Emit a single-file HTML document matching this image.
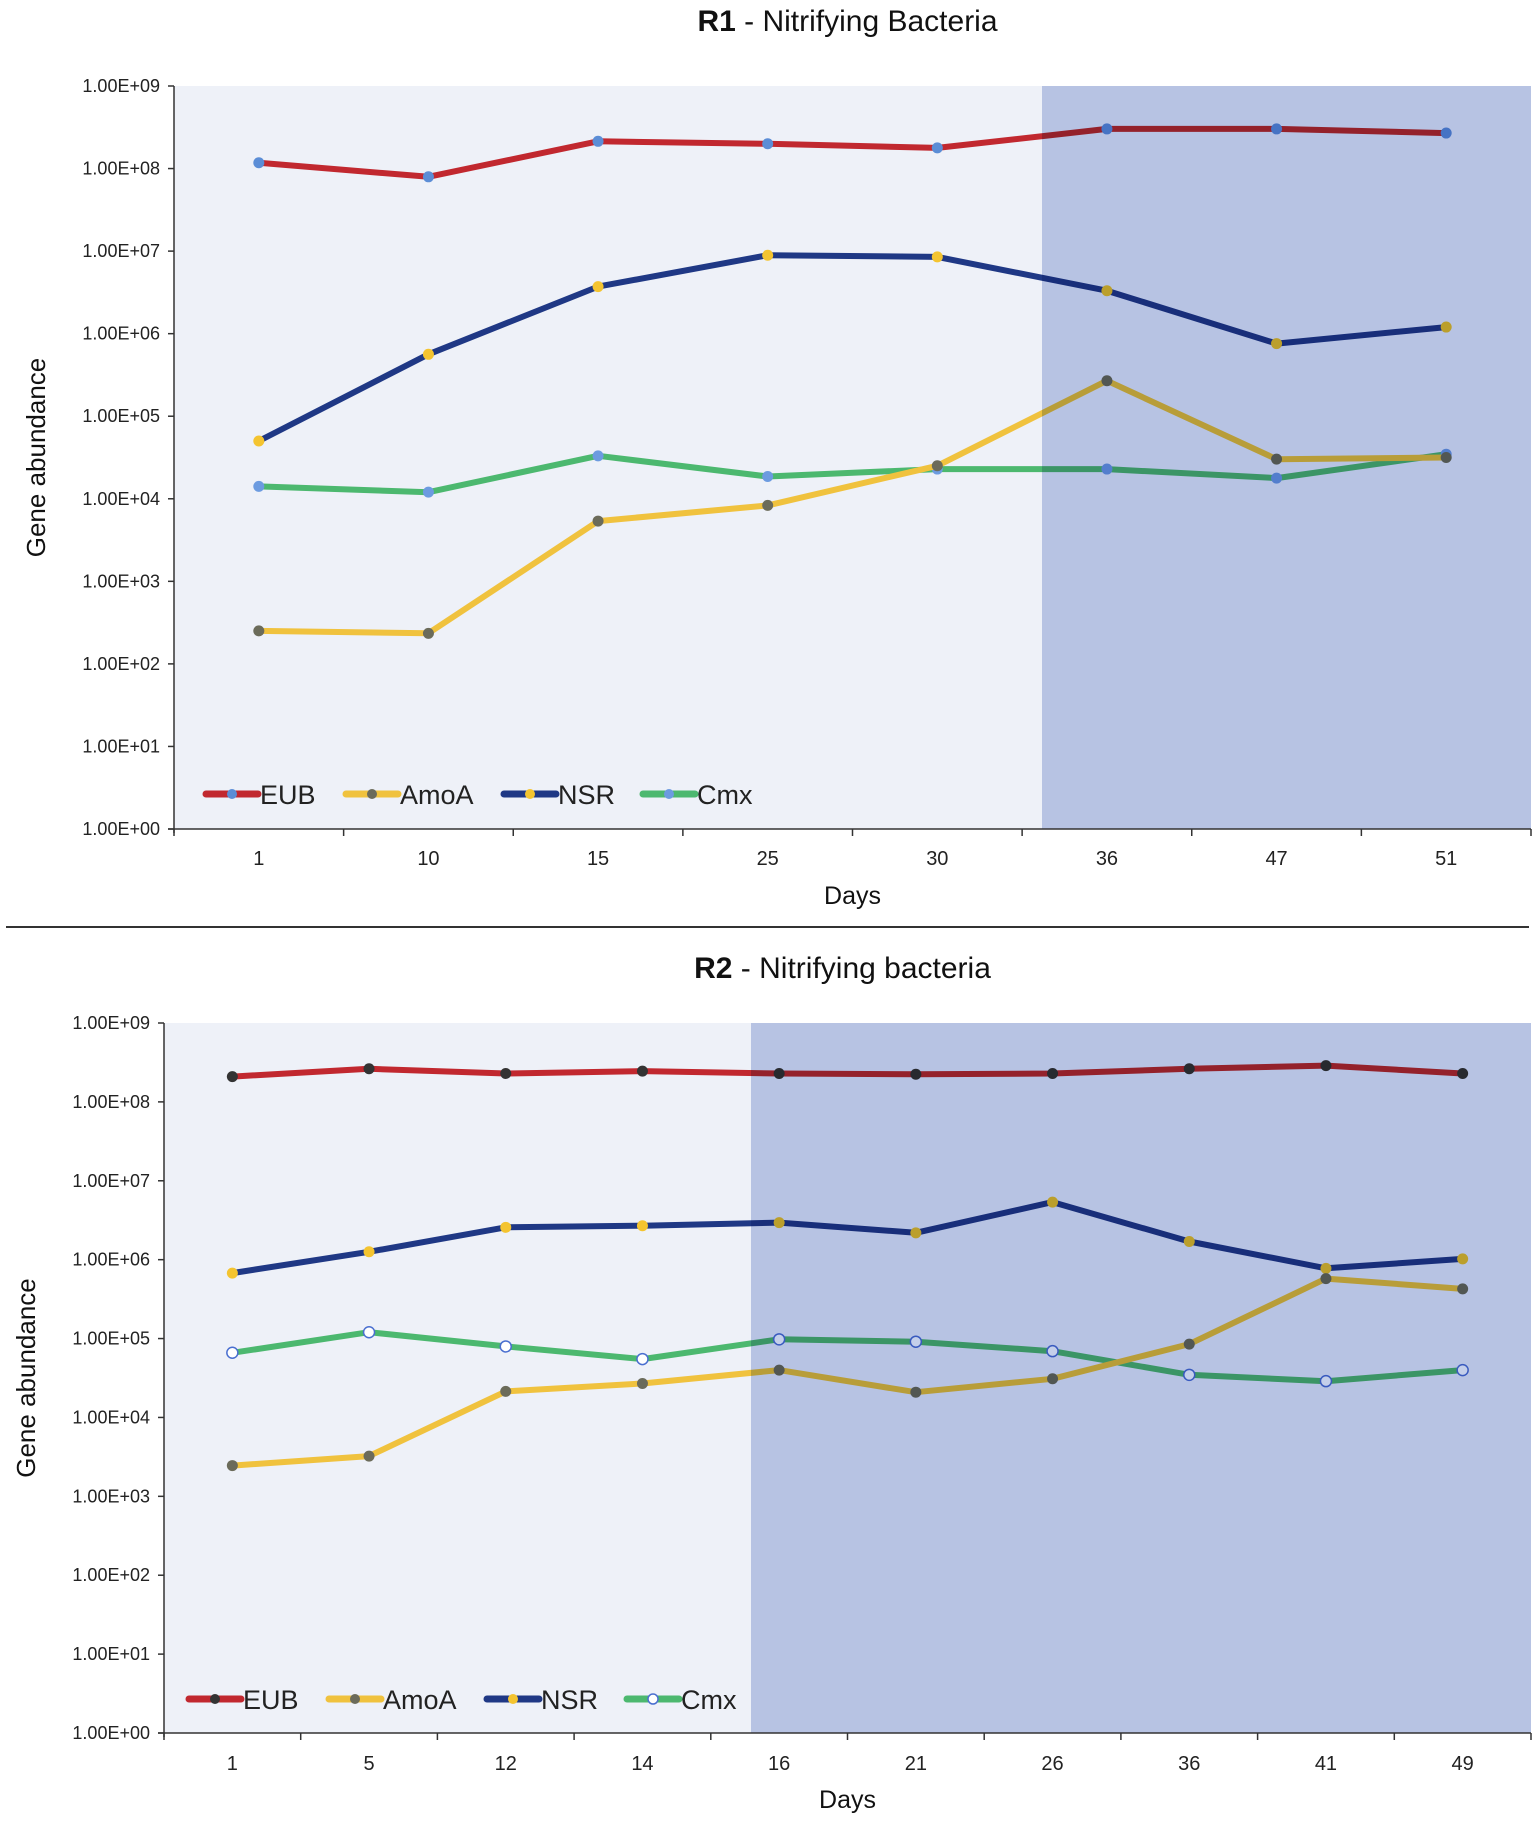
<!DOCTYPE html>
<html><head><meta charset="utf-8">
<style>
html,body{margin:0;padding:0;background:#fff;}
svg{display:block;font-family:"Liberation Sans",Arial,sans-serif;}
</style></head>
<body>
<svg id="chart" width="1535" height="1823" viewBox="0 0 1535 1823" xmlns="http://www.w3.org/2000/svg"></svg>
<script>
// ---- Chart R1 data (log10 gene abundance) ----
const r1Days = ["1","10","15","25","30","36","47","51"];
const r1EUB  = [8.07, 7.90, 8.33, 8.30, 8.25, 8.48, 8.48, 8.43];
const r1AmoA = [2.40, 2.37, 3.73, 3.92, 4.40, 5.43, 4.48, 4.50];
const r1NSR  = [4.70, 5.75, 6.57, 6.95, 6.93, 6.52, 5.88, 6.08];
const r1Cmx  = [4.15, 4.08, 4.52, 4.27, 4.36, 4.36, 4.25, 4.54];
// ---- Chart R2 data (log10 gene abundance) ----
const r2Days = ["1","5","12","14","16","21","26","36","41","49"];
const r2EUB  = [8.32, 8.42, 8.36, 8.39, 8.36, 8.35, 8.36, 8.42, 8.46, 8.36];
const r2AmoA = [3.39, 3.51, 4.33, 4.43, 4.60, 4.32, 4.49, 4.93, 5.76, 5.63];
const r2NSR  = [5.83, 6.10, 6.41, 6.43, 6.47, 6.34, 6.73, 6.23, 5.89, 6.01];
const r2Cmx  = [4.82, 5.08, 4.90, 4.74, 4.99, 4.96, 4.84, 4.54, 4.46, 4.60];
const yTickLabels = ["1.00E+00","1.00E+01","1.00E+02","1.00E+03","1.00E+04","1.00E+05","1.00E+06","1.00E+07","1.00E+08","1.00E+09"];

const NS = "http://www.w3.org/2000/svg";
const svg = document.getElementById("chart");
function mk(tag, attrs, parent, text){
  const e = document.createElementNS(NS, tag);
  for (const k in attrs) e.setAttribute(k, attrs[k]);
  if (text !== undefined) e.textContent = text;
  (parent || svg).appendChild(e);
  return e;
}

const colors = {EUB:"#c1282f", AmoA:"#f0c23e", NSR:"#1f3885", Cmx:"#4cb86f"};

function drawChart(cfg){
  const g = mk("g", {});
  
  
  const {L,R,T,B} = cfg;
  const n = cfg.days.length;
  const cw = (R - L) / n;
  const xPos = i => L + cw * (i + 0.5);
  const yPos = v => B - (B - T) * v / 9;

  const t = mk("text", {x:(L+R)/2 - 5, y:cfg.titleY, "text-anchor":"middle", "font-size":30, fill:"#111"}, g);
  
  
  mk("tspan", {"font-weight":"bold"}, t, cfg.titleBold);
  mk("tspan", {}, t, cfg.titleRest);

  const bg = mk("rect", {x:L, y:T, width:R-L, height:B-T, fill:"#eef1f8"}, g);
  
  

  const series = [
    {name:"EUB", vals:cfg.eub, mfill:cfg.mk.EUB, mstroke:"none"},
    {name:"AmoA", vals:cfg.amoa, mfill:cfg.mk.AmoA, mstroke:"none"},
    {name:"NSR", vals:cfg.nsr, mfill:cfg.mk.NSR, mstroke:"none"},
    {name:"Cmx", vals:cfg.cmx, mfill:cfg.mk.Cmx, mstroke:cfg.cmxStroke}
  ];
  const order = [0, 2, 3, 1];
  order.forEach(si => {
    const s = series[si];
    const pts = s.vals.map((v,i) => xPos(i).toFixed(1) + "," + yPos(v).toFixed(1)).join(" ");
    const pl = mk("polyline", {points:pts, fill:"none", stroke:colors[s.name], "stroke-width":6, "stroke-linejoin":"round", "stroke-linecap":"round"}, g);
    
    
    s.vals.forEach((v,i) => {
      const c = mk("circle", {cx:xPos(i), cy:yPos(v), r:5.5, fill:s.mfill, stroke:s.mstroke, "stroke-width":1.5}, g);
      
      
    });
  });

  const sh = mk("rect", {x:cfg.shadeX, y:T, width:R-cfg.shadeX, height:B-T, fill:"rgb(196,207,234)", style:"mix-blend-mode:multiply"}, g);
  
  

  const ya = mk("line", {x1:L, y1:T, x2:L, y2:B+4, stroke:"#333", "stroke-width":1.5}, g);
  
  
  const xa = mk("line", {x1:L-6, y1:B, x2:R, y2:B, stroke:"#333", "stroke-width":1.5}, g);
  
  

  yTickLabels.forEach((lab, k) => {
    const y = yPos(k);
    mk("line", {x1:L-6, y1:y, x2:L, y2:y, stroke:"#333", "stroke-width":1.5}, g);
    const tl = mk("text", {x:L-14, y:y+6, "text-anchor":"end", "font-size":18, fill:"#222"}, g, lab);
    
    
  });
  for (let i = 0; i <= n; i++){
    const x = L + cw * i;
    mk("line", {x1:x, y1:B, x2:x, y2:B+7, stroke:"#333", "stroke-width":1.5}, g);
  }
  cfg.days.forEach((d,i) => {
    const tl = mk("text", {x:xPos(i), y:cfg.xLabY, "text-anchor":"middle", "font-size":20, fill:"#222"}, g, d);
    
    
  });
  const xt = mk("text", {x:(L+R)/2, y:cfg.daysY, "text-anchor":"middle", "font-size":25, fill:"#111"}, g, "Days");
  
  
  const yt = mk("text", {x:0, y:0, "text-anchor":"middle", "font-size":26, fill:"#111", transform:"translate(" + cfg.yTitleX + "," + (T+B)/2 + ") rotate(-90)"}, g, "Gene abundance");
  
  

  series.forEach((s, k) => {
    const lx = cfg.legX[k];
    const ly = cfg.legY;
    const le = mk("g", {}, g);
    
    
    mk("line", {x1:lx, y1:ly, x2:lx+52, y2:ly, stroke:colors[s.name], "stroke-width":7, "stroke-linecap":"round"}, le);
    mk("circle", {cx:lx+26, cy:ly, r:5, fill:s.mfill, stroke:s.mstroke, "stroke-width":1.5}, le);
    mk("text", {x:lx+54, y:ly+10, "font-size":27, fill:"#222"}, le, s.name);
  });
}

drawChart({
  id:"r1", L:174, R:1531, T:86, B:829, shadeX:1042,
  titleY:31, titleBold:"R1", titleRest:" - Nitrifying Bacteria",
  xLabY:865, daysY:904, yTitleX:45,
  days:r1Days, eub:r1EUB, amoa:r1AmoA, nsr:r1NSR, cmx:r1Cmx,
  mk:{EUB:"#5b8dd6", AmoA:"#6b6b5a", NSR:"#f4c430", Cmx:"#6c9be0"}, cmxStroke:"none",
  legX:[206, 346, 504, 643], legY:794
});

const sep = mk("line", {x1:6, y1:927, x2:1529, y2:927, stroke:"#333", "stroke-width":2});



drawChart({
  id:"r2", L:164, R:1531, T:1023, B:1733, shadeX:751,
  titleY:978, titleBold:"R2", titleRest:" - Nitrifying bacteria",
  xLabY:1770, daysY:1808, yTitleX:35,
  days:r2Days, eub:r2EUB, amoa:r2AmoA, nsr:r2NSR, cmx:r2Cmx,
  mk:{EUB:"#333333", AmoA:"#6b6b5a", NSR:"#f4c430", Cmx:"#ffffff"}, cmxStroke:"#4a6fd0",
  legX:[189, 329, 487, 627], legY:1699
});
</script>
</body></html>
